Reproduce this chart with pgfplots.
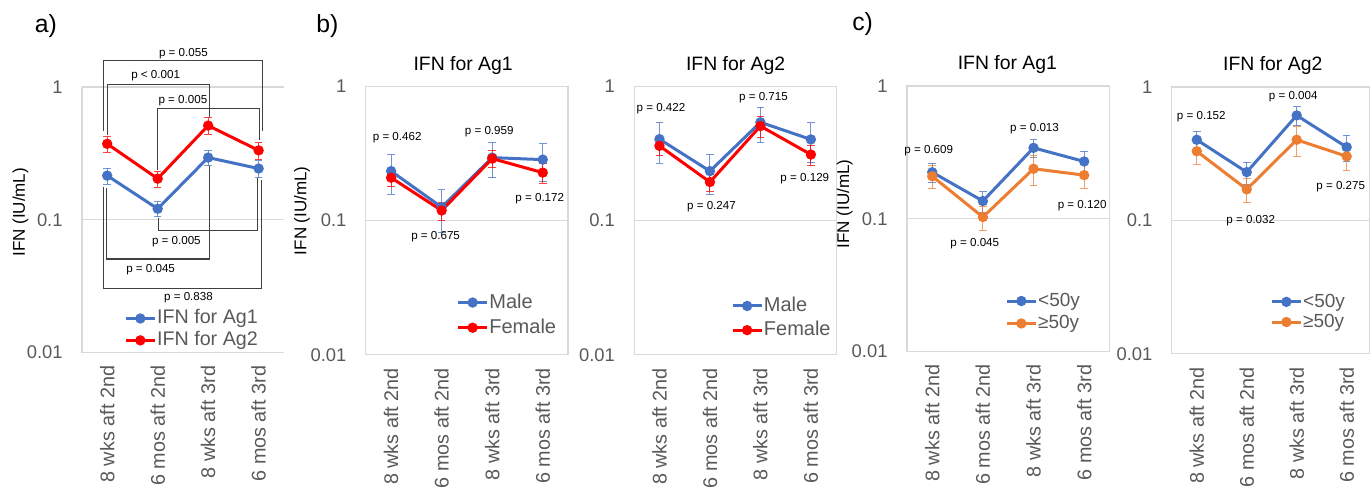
\documentclass[border=0pt]{standalone}
\usepackage{fontspec}
\setmainfont{Liberation Sans}
\usepackage{pgfplots}
\pgfplotsset{compat=1.18}
\definecolor{blueC}{HTML}{4472C4}
\definecolor{redC}{HTML}{FF0000}
\definecolor{orangeC}{HTML}{ED7D31}
\definecolor{gridgray}{HTML}{D9D9D9}
\definecolor{tlgray}{HTML}{595959}
\definecolor{brgray}{HTML}{404040}
\pgfplotsset{legend image code/.code={\draw[mark repeat=2,mark phase=2,#1] plot coordinates {(0pt,0pt)(7.25pt,0pt)(14.5pt,0pt)};}}
\pgfplotsset{
  every axis/.append style={
    scale only axis, ymode=log, ymin=0.01, ymax=1, xmin=-0.5, xmax=3.5,
    xtick={0,1,2,3},
    xticklabels={8 wks aft 2nd,6 mos aft 2nd,8 wks aft 3rd,6 mos aft 3rd},
    ytick={0.01,0.1,1}, yticklabels={0.01,0.1,1},
    yminorticks=false,
    ymajorgrids, grid style={draw=gridgray, line width=0.6pt},
    major tick length=0pt, minor tick length=0pt,
    axis line style={draw=gridgray, line width=0.6pt},
    yticklabel style={font=\fontsize{9.2}{11}\selectfont, text=tlgray, inner xsep=9.5pt},
    xticklabel style={rotate=90, anchor=east, font=\fontsize{9.9}{11}\selectfont, text=tlgray, inner xsep=6.5pt},
    ylabel style={anchor=center, font=\fontsize{8.5}{10}\selectfont},
    title style={font=\fontsize{9.7}{11}\selectfont, anchor=center, yshift=4.5pt},
    clip=false,
    legend cell align=left,
  },
  every axis plot/.append style={line width=1.5pt, mark=*, mark size=1.8pt, mark options={solid},
    error bars/y dir=both, error bars/y explicit,
    error bars/error bar style={line width=0.5pt, opacity=0.75},
    error bars/error mark options={rotate=90, line width=0.5pt, mark size=1.9pt, opacity=0.75}},
}
\newcommand{\pv}[3]{\node[font=\fontsize{5.8}{7}\selectfont, inner sep=0pt] at (axis cs:#1,#2) {p = #3};}
\begin{document}
\begin{tikzpicture}
\path (0,0) rectangle (685pt,243.5pt);
\node[font=\fontsize{12.4}{14}\selectfont] at (23pt,230.5pt) {a)};
\node[font=\fontsize{12.4}{14}\selectfont] at (163.75pt,230.25pt) {b)};
\node[font=\fontsize{12.4}{14}\selectfont] at (431.5pt,231.5pt) {c)};

% ---------- panel a
\begin{axis}[at={(41pt,67.15pt)}, anchor=south west, width=101pt, height=132.85pt,
  axis x line*=bottom, axis y line*=left, axis line style={-},
  ylabel={IFN (IU/mL)}, ylabel style={at={(axis description cs:-0.304,0.528)}},
  legend style={at={(axis description cs:0.208,0.087)}, anchor=west, draw=none, fill=none, inner sep=0pt,
      font=\fontsize{9.85}{12}\selectfont, text=tlgray, row sep=1.65pt,
      nodes={inner sep=0.4pt, text height=7pt, text depth=1.5pt}}]
\addplot[color=blueC] coordinates {(0,0.215) +- (0,0.03) (1,0.121) +- (0,0.016) (2,0.294) +- (0,0.039) (3,0.243) +- (0,0.035)};
\addlegendentry{IFN for Ag1}
\addplot[color=redC] coordinates {(0,0.373) +- (0,0.05) (1,0.204) +- (0,0.028) (2,0.512) +- (0,0.073) (3,0.333) +- (0,0.048)};
\addlegendentry{IFN for Ag2}
\draw[brgray, line width=0.6pt] (axis cs:-0.073,0.469) -- (axis cs:-0.073,1.577) -- (axis cs:3.075,1.577) -- (axis cs:3.075,0.469);
\draw[brgray, line width=0.6pt] (axis cs:0.006,0.436) -- (axis cs:0.006,1.048) -- (axis cs:2.02,1.048) -- (axis cs:2.02,0.592);
\draw[brgray, line width=0.6pt] (axis cs:1.004,0.238) -- (axis cs:1.004,0.692) -- (axis cs:3.01,0.692) -- (axis cs:3.01,0.399);
\draw[brgray, line width=0.6pt] (axis cs:1.016,0.103) -- (axis cs:1.016,0.0827) -- (axis cs:2.984,0.0827) -- (axis cs:2.984,0.206);
\draw[brgray, line width=0.6pt] (axis cs:-0.02,0.173) -- (axis cs:-0.02,0.0506) -- (axis cs:2.02,0.0506) -- (axis cs:2.02,0.252);
\draw[brgray, line width=0.6pt] (axis cs:-0.073,0.178) -- (axis cs:-0.073,0.0304) -- (axis cs:3.05,0.0304) -- (axis cs:3.05,0.200);
\pv{1.51}{1.79}{0.055}
\node[font=\fontsize{5.8}{7}\selectfont, inner sep=0pt] at (axis cs:0.96,1.21) {p < 0.001};
\pv{1.50}{0.785}{0.005}
\pv{1.37}{0.0687}{0.005}
\pv{0.86}{0.0421}{0.045}
\pv{1.61}{0.0261}{0.838}
\end{axis}

% ---------- panel b1
\begin{axis}[at={(183pt,66pt)}, anchor=south west, width=101.15pt, height=134.25pt,
  ylabel={IFN (IU/mL)}, ylabel style={at={(axis description cs:-0.316,0.537)}},
  title={IFN for Ag1}, title style={at={(axis description cs:0.481,1)}},
  legend style={at={(axis description cs:0.447,0.148)}, anchor=west, draw=none, fill=none, inner sep=0pt,
      font=\fontsize{10}{12}\selectfont, text=tlgray, row sep=3.3pt,
      nodes={inner sep=0.4pt, text height=7pt, text depth=1.5pt}}]
\addplot[color=blueC] coordinates {(0,0.234) +- (0,0.077) (1,0.126) +- (0,0.044) (2,0.295) +- (0,0.087) (3,0.285) +- (0,0.09)};
\addlegendentry{Male}
\addplot[color=redC] coordinates {(0,0.209) +- (0,0.028) (1,0.119) +- (0,0.018) (2,0.290) +- (0,0.042) (3,0.228) +- (0,0.038)};
\addlegendentry{Female}
\pv{0.12}{0.412}{0.462}
\pv{0.88}{0.076}{0.675}
\pv{1.94}{0.461}{0.959}
\pv{2.94}{0.146}{0.172}
\end{axis}

% ---------- panel b2
\begin{axis}[at={(317.25pt,66pt)}, anchor=south west, width=101pt, height=134.25pt,
  title={IFN for Ag2}, title style={at={(axis description cs:0.502,1)}},
  legend style={at={(axis description cs:0.478,0.137)}, anchor=west, draw=none, fill=none, inner sep=0pt,
      font=\fontsize{10}{12}\selectfont, text=tlgray, row sep=2.8pt,
      nodes={inner sep=0.4pt, text height=7pt, text depth=1.5pt}}]
\addplot[color=blueC] coordinates {(0,0.405) +- (0,0.138) (1,0.234) +- (0,0.077) (2,0.541) +- (0,0.16) (3,0.403) +- (0,0.134)};
\addlegendentry{Male}
\addplot[color=redC] coordinates {(0,0.361) +- (0,0.057) (1,0.194) +- (0,0.028) (2,0.507) +- (0,0.087) (3,0.311) +- (0,0.054)};
\addlegendentry{Female}
\pv{0.03}{0.684}{0.422}
\pv{1.03}{0.127}{0.247}
\pv{2.06}{0.826}{0.715}
\pv{2.88}{0.204}{0.129}
\end{axis}

% ---------- panel c1
\begin{axis}[at={(453.65pt,67.65pt)}, anchor=south west, width=101.35pt, height=132.85pt,
  ylabel={IFN (IU/mL)}, ylabel style={at={(axis description cs:-0.307,0.556)}},
  title={IFN for Ag1}, title style={at={(axis description cs:0.496,1)}},
  legend style={at={(axis description cs:0.484,0.148)}, anchor=west, draw=none, fill=none, inner sep=0pt,
      font=\fontsize{9.5}{12}\selectfont, text=tlgray, row sep=1.95pt,
      nodes={inner sep=0.4pt, text height=7pt, text depth=1.5pt}}]
\addplot[color=blueC] coordinates {(0,0.224) +- (0,0.038) (1,0.136) +- (0,0.024) (2,0.342) +- (0,0.053) (3,0.270) +- (0,0.052)};
\addlegendentry{<50y}
\addplot[color=orangeC] coordinates {(0,0.209) +- (0,0.041) (1,0.103) +- (0,0.021) (2,0.238) +- (0,0.06) (3,0.213) +- (0,0.044)};
\addlegendentry{≥50y}
\pv{-0.07}{0.328}{0.609}
\pv{0.84}{0.0652}{0.045}
\pv{2.02}{0.477}{0.013}
\pv{2.96}{0.126}{0.120}
\end{axis}

% ---------- panel c2
\begin{axis}[at={(586.15pt,66.5pt)}, anchor=south west, width=98.85pt, height=133.5pt, xmax=3.455,
  title={IFN for Ag2}, title style={at={(axis description cs:0.511,1)}},
  legend style={at={(axis description cs:0.497,0.157)}, anchor=west, draw=none, fill=none, inner sep=0pt,
      font=\fontsize{9.5}{12}\selectfont, text=tlgray, row sep=0.8pt,
      nodes={inner sep=0.4pt, text height=7pt, text depth=1.5pt}}]
\addplot[color=blueC] coordinates {(0,0.402) +- (0,0.065) (1,0.230) +- (0,0.043) (2,0.612) +- (0,0.10) (3,0.354) +- (0,0.08)};
\addlegendentry{<50y}
\addplot[color=orangeC] coordinates {(0,0.330) +- (0,0.067) (1,0.171) +- (0,0.035) (2,0.402) +- (0,0.1) (3,0.302) +- (0,0.065)};
\addlegendentry{≥50y}
\pv{0.09}{0.598}{0.152}
\pv{1.08}{0.1}{0.032}
\pv{1.93}{0.845}{0.004}
\pv{2.88}{0.180}{0.275}
\end{axis}
\end{tikzpicture}
\end{document}
